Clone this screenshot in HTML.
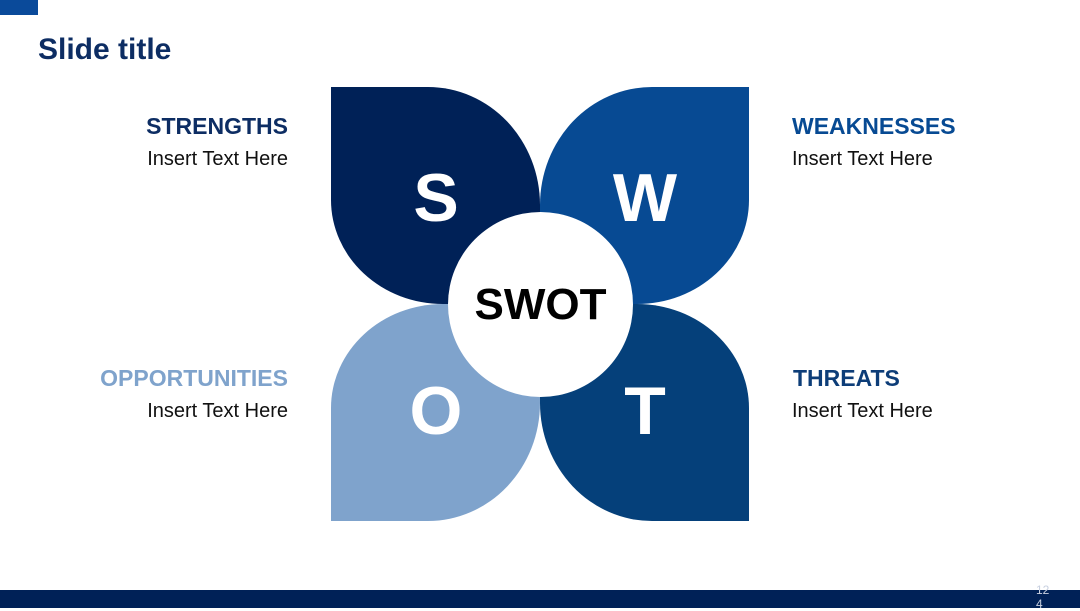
<!DOCTYPE html>
<html><head><meta charset="utf-8"><style>
body{margin:0;width:1080px;height:608px;position:relative;background:#fff;font-family:"Liberation Sans",Arial,sans-serif;overflow:hidden}
.a{position:absolute}
.p{position:absolute;width:209px;height:217px}
.l{color:#fff;font-weight:bold;font-size:68px;line-height:72px;position:absolute;width:120px;text-align:center}
h2{margin:0;font-size:23px;font-weight:bold;position:absolute}
.t{position:absolute;font-size:20px;color:#111}
</style></head><body>
<div class="a" style="left:0;top:0;width:38px;height:15px;background:#0a4a9a"></div>
<div class="a" style="left:38px;top:33px;font-size:30px;font-weight:bold;color:#0d2d63">Slide title</div>

<div class="p" style="left:331px;top:87px;background:#002157;border-radius:0 112px 0 112px/0 118px 0 104px"><div class="l" style="left:45px;top:75px">S</div></div>
<div class="p" style="left:540px;top:87px;background:#074a93;border-radius:112px 0 112px 0/118px 0 104px 0"><div class="l" style="left:45px;top:75px">W</div></div>
<div class="p" style="left:331px;top:304px;background:#7fa3cc;border-radius:112px 0 112px 0/104px 0 118px 0"><div class="l" style="left:45px;top:71px">O</div></div>
<div class="p" style="left:540px;top:304px;background:#05407a;border-radius:0 112px 0 112px/0 104px 0 118px"><div class="l" style="left:45px;top:71px">T</div></div>
<div class="a" style="left:448px;top:212px;width:185px;height:185px;border-radius:50%;background:#fff;text-align:center;line-height:185px;font-size:44px;font-weight:bold;color:#000">SWOT</div>

<h2 style="right:792px;top:113px;color:#0d2d63">STRENGTHS</h2>
<div class="t" style="right:792px;top:148px">Insert Text Here</div>
<h2 style="left:792px;top:113px;color:#074a93">WEAKNESSES</h2>
<div class="t" style="left:792px;top:148px">Insert Text Here</div>
<h2 style="right:792px;top:365px;color:#7fa3cc">OPPORTUNITIES</h2>
<div class="t" style="right:792px;top:400px">Insert Text Here</div>
<h2 style="left:793px;top:365px;color:#0d3d78">THREATS</h2>
<div class="t" style="left:792px;top:400px">Insert Text Here</div>

<div class="a" style="left:0;top:590px;width:1080px;height:18px;background:#002157"></div>
<div class="a" style="left:1036px;top:583px;width:14px;font-size:12px;line-height:14px;color:#c8d0e0">12 4</div>
</body></html>
